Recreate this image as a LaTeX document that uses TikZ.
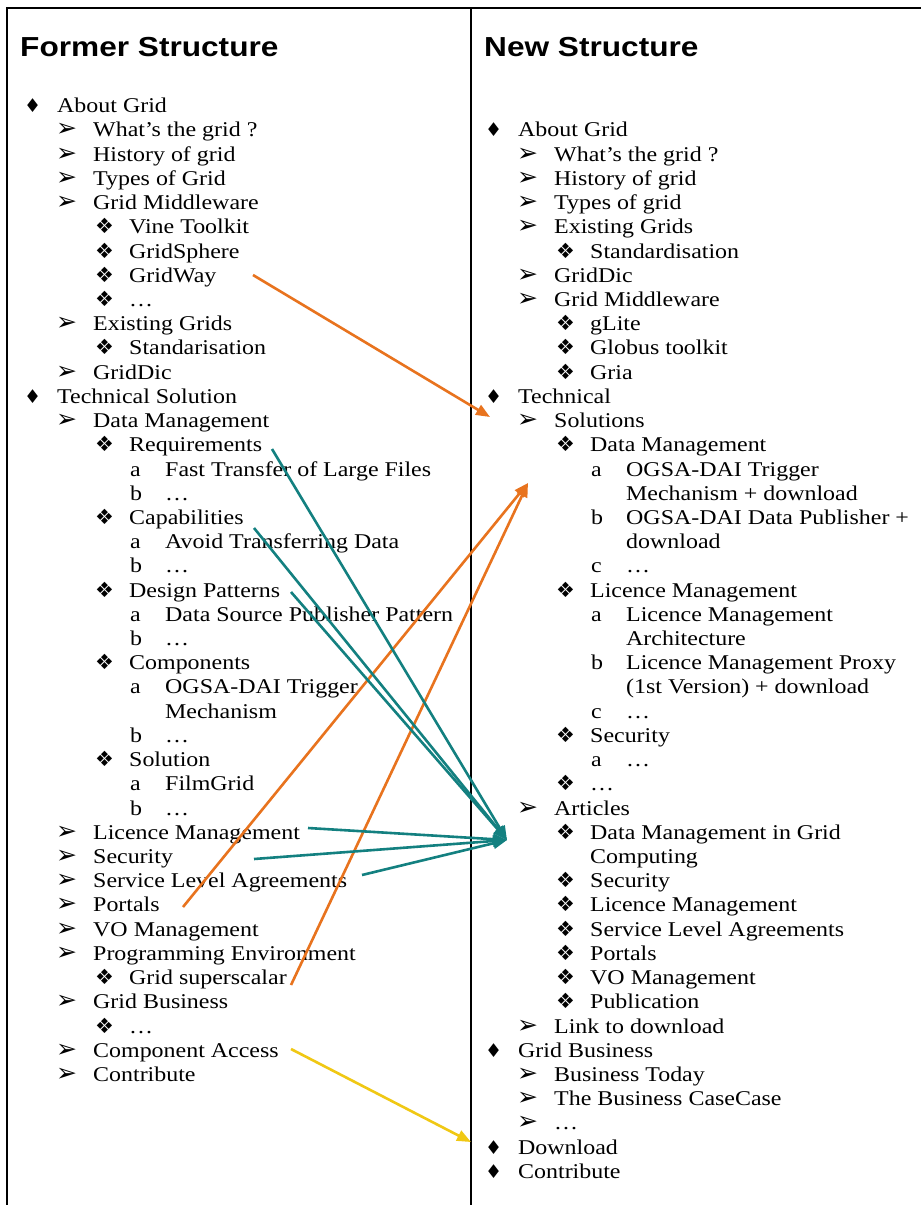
\documentclass[tikz,border=0pt]{standalone}
\usepackage{fontspec}
\setmainfont{Liberation Serif}[FakeStretch=1.14]
\newfontfamily\titlefont{Liberation Sans}[FakeStretch=1.15]
\newfontfamily\symfont{DejaVu Sans}
\usetikzlibrary{arrows.meta}
\definecolor{arrorange}{RGB}{232,115,30}
\definecolor{arrteal}{RGB}{19,128,128}
\definecolor{arryellow}{RGB}{240,200,20}
\newcommand\LY[1]{(112.7+24.22*(#1))}
\tikzset{
  txt/.style={anchor=base west, inner sep=0pt, font=\fontsize{21}{24}\selectfont},
  ttl/.style={anchor=base west, inner sep=0pt, font=\titlefont\bfseries\fontsize{27.5}{30}\selectfont},
  bdia/.style={anchor=base west, inner sep=0pt, font=\symfont\fontsize{19}{20}\selectfont},
  barr/.style={anchor=base west, inner sep=0pt, font=\symfont\fontsize{25}{26}\selectfont},
  bfour/.style={anchor=base west, inner sep=0pt, font=\symfont\fontsize{21}{22}\selectfont},
  link/.style={line width=2.6pt, -{Triangle[length=14pt,width=11pt]}},
  frame/.style={line width=1.8pt, black},
}
% level macros: name, x offset, line index, text
\newcommand\Li[4]{\node[bdia] (#1-b) at ({24+#2},{\LY{#3}}) {♦};
  \node[txt] (#1) at ({57+#2},{\LY{#3}}) {#4};}
\newcommand\Lii[4]{\node[barr] (#1-b) at ({56+#2},{\LY{#3}}) {➢};
  \node[txt] (#1) at ({93+#2},{\LY{#3}}) {#4};}
\newcommand\Liii[4]{\node[bfour] (#1-b) at ({95+#2},{\LY{#3}}) {❖};
  \node[txt] (#1) at ({129+#2},{\LY{#3}}) {#4};}
\newcommand\Liv[5]{\node[txt] (#1-b) at ({130+#2},{\LY{#3}}) {#4};
  \node[txt] (#1) at ({165+#2},{\LY{#3}}) {#5};}
\newcommand\Lc[4]{\node[txt] (#1) at ({#2},{\LY{#3}}) {#4};}
\begin{document}
\begin{tikzpicture}[x=1pt,y=-1pt]
\fill[white] (0,0) rectangle (921,1205);
\useasboundingbox (0,0) rectangle (921,1205);
% frame
\draw[frame] (7,1205) -- (7,8) -- (921,8);
\draw[frame, line width=1.5pt] (471,8) -- (471,1205);
% titles
\node[ttl] (t1) at (20,56) {Former Structure};
\node[ttl] (t2) at (484,56) {New Structure};
% ---------- left column ----------
\Li{l0}{0}{0}{About Grid}
\Lii{l1}{0}{1}{What’s the grid ?}
\Lii{l2}{0}{2}{History of grid}
\Lii{l3}{0}{3}{Types of Grid}
\Lii{l4}{0}{4}{Grid Middleware}
\Liii{l5}{0}{5}{Vine Toolkit}
\Liii{l6}{0}{6}{GridSphere}
\Liii{l7}{0}{7}{GridWay}
\Liii{l8}{0}{8}{…}
\Lii{l9}{0}{9}{Existing Grids}
\Liii{l10}{0}{10}{Standarisation}
\Lii{l11}{0}{11}{GridDic}
\Li{l12}{0}{12}{Technical Solution}
\Lii{l13}{0}{13}{Data Management}
\Liii{l14}{0}{14}{Requirements}
\Liv{l15}{0}{15}{a}{Fast Transfer of Large Files}
\Liv{l16}{0}{16}{b}{…}
\Liii{l17}{0}{17}{Capabilities}
\Liv{l18}{0}{18}{a}{Avoid Transferring Data}
\Liv{l19}{0}{19}{b}{…}
\Liii{l20}{0}{20}{Design Patterns}
\Liv{l21}{0}{21}{a}{Data Source Publisher Pattern}
\Liv{l22}{0}{22}{b}{…}
\Liii{l23}{0}{23}{Components}
\Liv{l24}{0}{24}{a}{OGSA-DAI Trigger}
\Lc{l25}{165}{25}{Mechanism}
\Liv{l26}{0}{26}{b}{…}
\Liii{l27}{0}{27}{Solution}
\Liv{l28}{0}{28}{a}{FilmGrid}
\Liv{l29}{0}{29}{b}{…}
\Lii{l30}{0}{30}{Licence Management}
\Lii{l31}{0}{31}{Security}
\Lii{l32}{0}{32}{Service Level Agreements}
\Lii{l33}{0}{33}{Portals}
\Lii{l34}{0}{34}{VO Management}
\Lii{l35}{0}{35}{Programming Environment}
\Liii{l36}{0}{36}{Grid superscalar}
\Lii{l37}{0}{37}{Grid Business}
\Liii{l38}{0}{38}{…}
\Lii{l39}{0}{39}{Component Access}
\Lii{l40}{0}{40}{Contribute}
% ---------- right column ----------
\Li{r1}{461}{1}{About Grid}
\Lii{r2}{461}{2}{What’s the grid ?}
\Lii{r3}{461}{3}{History of grid}
\Lii{r4}{461}{4}{Types of grid}
\Lii{r5}{461}{5}{Existing Grids}
\Liii{r6}{461}{6}{Standardisation}
\Lii{r7}{461}{7}{GridDic}
\Lii{r8}{461}{8}{Grid Middleware}
\Liii{r9}{461}{9}{gLite}
\Liii{r10}{461}{10}{Globus toolkit}
\Liii{r11}{461}{11}{Gria}
\Li{r12}{461}{12}{Technical}
\Lii{r13}{461}{13}{Solutions}
\Liii{r14}{461}{14}{Data Management}
\Liv{r15}{461}{15}{a}{OGSA-DAI Trigger}
\Lc{r16}{626}{16}{Mechanism + download}
\Liv{r17}{461}{17}{b}{OGSA-DAI Data Publisher +}
\Lc{r18}{626}{18}{download}
\Liv{r19}{461}{19}{c}{…}
\Liii{r20}{461}{20}{Licence Management}
\Liv{r21}{461}{21}{a}{Licence Management}
\Lc{r22}{626}{22}{Architecture}
\Liv{r23}{461}{23}{b}{Licence Management Proxy}
\Lc{r24}{626}{24}{(1st Version) + download}
\Liv{r25}{461}{25}{c}{…}
\Liii{r26}{461}{26}{Security}
\Liv{r27}{461}{27}{a}{…}
\Liii{r28}{461}{28}{…}
\Lii{r29}{461}{29}{Articles}
\Liii{r30}{461}{30}{Data Management in Grid}
\Lc{r31}{590}{31}{Computing}
\Liii{r32}{461}{32}{Security}
\Liii{r33}{461}{33}{Licence Management}
\Liii{r34}{461}{34}{Service Level Agreements}
\Liii{r35}{461}{35}{Portals}
\Liii{r36}{461}{36}{VO Management}
\Liii{r37}{461}{37}{Publication}
\Lii{r38}{461}{38}{Link to download}
\Li{r39}{461}{39}{Grid Business}
\Lii{r40}{461}{40}{Business Today}
\Lii{r41}{461}{41}{The Business CaseCase}
\Lii{r42}{461}{42}{…}
\Li{r43}{461}{43}{Download}
\Li{r44}{461}{44}{Contribute}
% ---------- connector end points ----------
\coordinate (sGridWay) at (253,275);
\coordinate (sPortals) at (183,907);
\coordinate (sSuper) at (291,985);
\coordinate (sReq) at (272,449);
\coordinate (sCap) at (254,528);
\coordinate (sDes) at (291,592);
\coordinate (sLic) at (308,828);
\coordinate (sSec) at (254,859);
\coordinate (sSLA) at (362,875);
\coordinate (sComp) at (291,1049);
\coordinate (eTech) at (490,417);
\coordinate (eSol) at (528,483);
\coordinate (eArt) at (507,840);
\coordinate (eDown) at (471,1142);
% ---------- connectors ----------
\draw[link, arrorange] (sGridWay) -- (eTech);
\draw[link, arrorange] (sPortals) -- (eSol);
\draw[link, arrorange] (sSuper) -- (eSol);
\draw[link, arrteal] (sReq) -- (eArt);
\draw[link, arrteal] (sCap) -- (eArt);
\draw[link, arrteal] (sDes) -- (eArt);
\draw[link, arrteal] (sLic) -- (eArt);
\draw[link, arrteal] (sSec) -- (eArt);
\draw[link, arrteal] (sSLA) -- (eArt);
\draw[link, arryellow] (sComp) -- (eDown);
\end{tikzpicture}
\end{document}
